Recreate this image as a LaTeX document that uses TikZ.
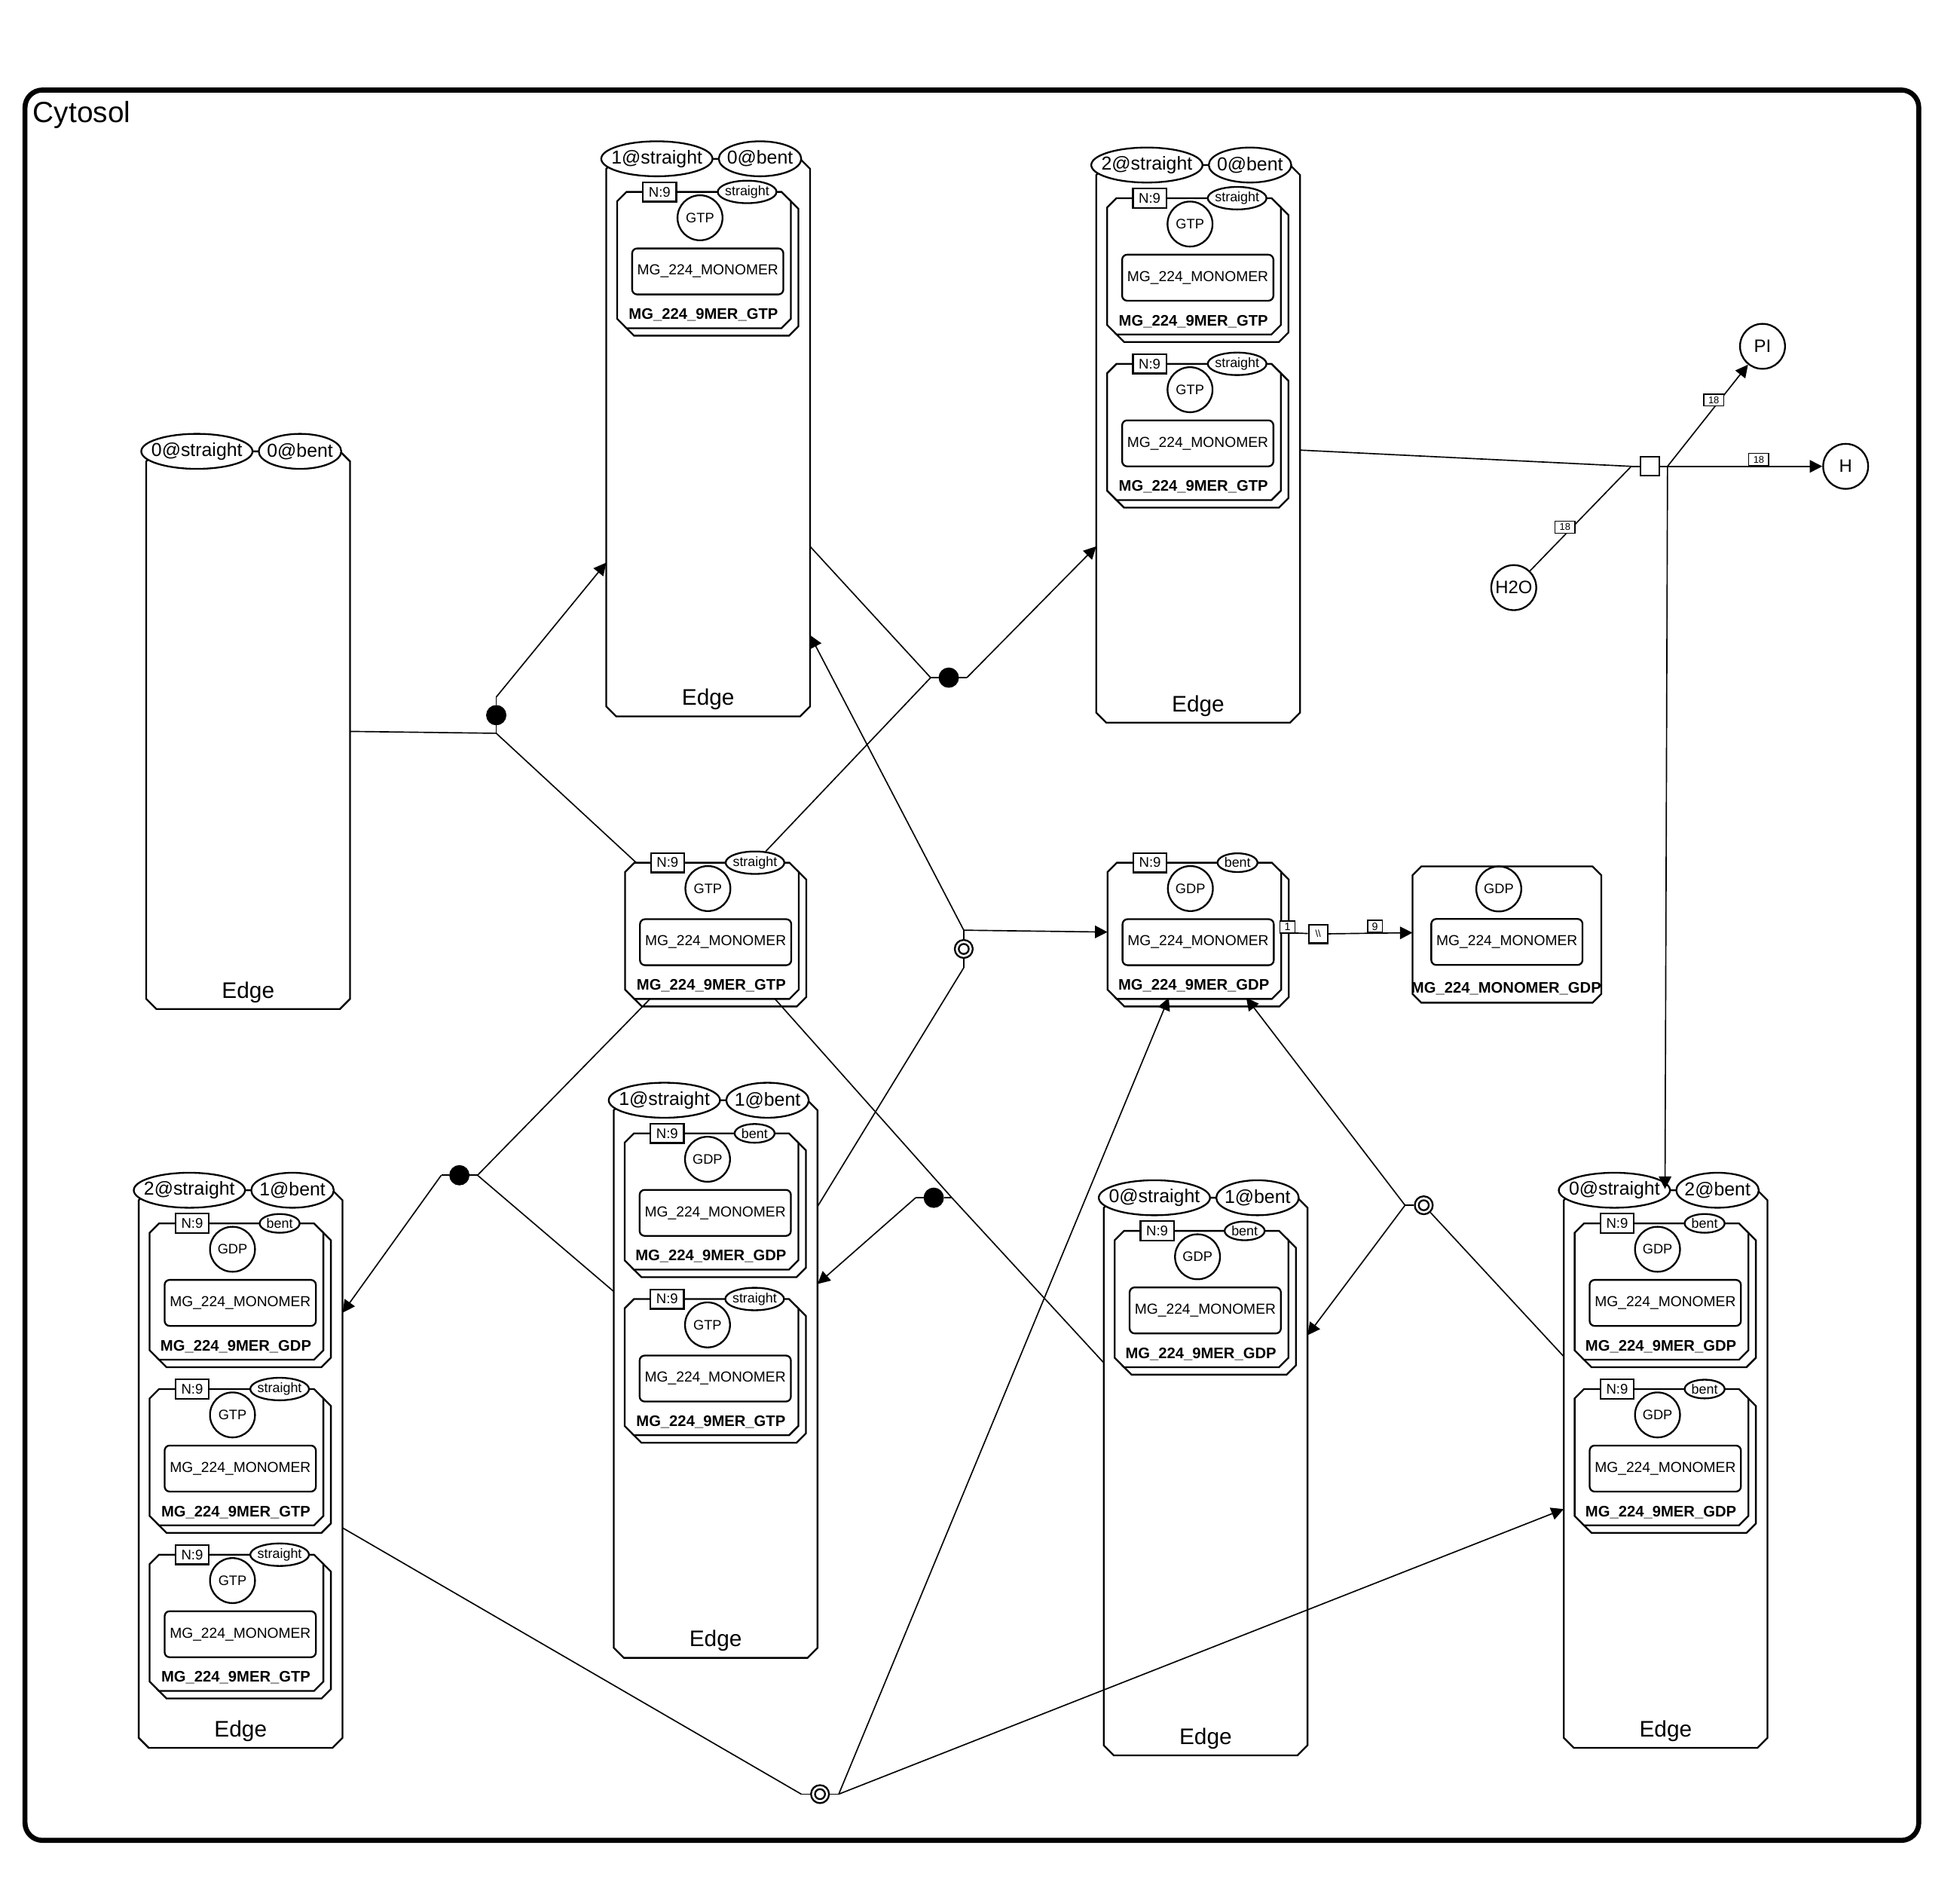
\documentclass[tikz,border=0pt]{standalone}
\usepackage{fontspec}
\setmainfont{Liberation Sans}
\usetikzlibrary{shapes.geometric,arrows.meta}
\newcommand\fs[1]{\fontsize{#1}{#1}\selectfont}
\newcommand\us{\char95 }
\newcommand\chdraw[5]{\draw[bd,fill=white] (#1+#5,#2) -- (#3-#5,#2) -- (#3,#2+#5) -- (#3,#4-#5) -- (#3-#5,#4) -- (#1+#5,#4) -- (#1,#4-#5) -- (#1,#2+#5) -- cycle;}
\tikzset{
 bd/.style={line width=0.7pt},
 cn/.style={line width=0.5pt},
 ar/.style={cn,-{Triangle[length=5pt,width=5pt]}},
 sv/.style={ellipse,draw,bd,fill=white,inner xsep=-4pt,inner ysep=-2pt,minimum height=14pt,font=\fs{7.5}},
 svs/.style={sv,minimum width=44.5pt},
 svb/.style={sv,minimum width=33pt},
 msstraight/.style={ellipse,draw,bd,fill=white,inner xsep=-4pt,inner ysep=-2pt,minimum width=23.5pt,minimum height=9pt,font=\fs{5.4}},
 msbent/.style={ellipse,draw,bd,fill=white,inner xsep=-4pt,inner ysep=-2pt,minimum width=16pt,minimum height=7.5pt,font=\fs{5.4}},
 nbox/.style={rectangle,draw,bd,fill=white,inner sep=0pt,minimum width=13.35pt,minimum height=7.75pt,font=\fs{5.6}},
 lig/.style={circle,draw,bd,fill=white,inner sep=-3pt,minimum size=18pt,font=\fs{5.5}},
 mono/.style={rectangle,rounded corners=2pt,draw,bd,fill=white,inner sep=0pt,minimum width=60.5pt,minimum height=18.4pt,font=\fs{5.8}},
 mlab/.style={inner sep=0pt,font=\fs{6.1}\bfseries},
 elab/.style={inner sep=0pt,font=\fs{9}},
 spec/.style={circle,draw,bd,fill=white,inner sep=-3pt,minimum size=18pt,font=\fs{7.2}},
 aproc/.style={circle,fill=black,draw,line width=0.3pt,inner sep=0pt,minimum size=7.8pt},
 dproc/.style={circle,draw,bd,fill=white,inner sep=0pt,minimum size=7.2pt,path picture={\draw[bd] (path picture bounding box.center) circle[radius=2pt];}},
 sproc/.style={rectangle,draw,bd,fill=white,inner sep=0pt,minimum size=7.5pt,font=\fs{4}},
 stoi/.style={rectangle,draw,line width=0.45pt,fill=white,inner sep=0pt,minimum width=8pt,minimum height=4.75pt,font=\fs{3.9}},
 stoj/.style={stoi,minimum width=6pt,minimum height=4.8pt,font=\fs{4.3}},
}
\newcommand\edgebox[5]{%
 \chdraw{#2}{#3}{#2+163}{#3+446}{8}
 \node[svs] (#1s) at (#2+40.5,#3) {#4};
 \node[svb] (#1b) at (#2+123,#3) {#5};
 \node[elab] (#1t) at (#2+81.5,#3+432.5) {Edge};
}
\newcommand\mmer[5]{%
 \chdraw{#2+6}{#3+6}{#2+145}{#3+115}{7.5}
 \chdraw{#2}{#3}{#2+139}{#3+109}{7.5}
 \node[nbox] (#1n) at (#2+34,#3) {N:9};
 \node[ms#4] (#1s) at (#2+104,#3) {#4};
 \node[lig] (#1l) at (#2+66.3,#3+20.7) {#5};
 \node[mono] (#1m) at (#2+72.5,#3+63.6) {MG\us224\us MONOMER};
 \node[mlab] (#1t) at (#2+69,#3+98.5) {MG\us224\us9MER\us#5};
}
\begin{document}
\begin{tikzpicture}[x=0.5pt,y=-0.5pt]
\useasboundingbox (0,0) rectangle (1568,1505);
% compartment
\draw[line width=2pt,rounded corners=7pt] (20,72) rectangle (1535,1472);
\node[anchor=west,inner sep=0pt,font=\fs{11.7}] (cyt) at (26,92) {Cytosol};
% Edge containers
\edgebox{ea}{117}{361}{0@straight}{0@bent}
\edgebox{eb}{485}{127}{1@straight}{0@bent}
\edgebox{ec}{877}{132}{2@straight}{0@bent}
\edgebox{ed}{111}{952}{2@straight}{1@bent}
\edgebox{ee}{491}{880}{1@straight}{1@bent}
\edgebox{ef}{883}{958}{0@straight}{1@bent}
\edgebox{eg}{1251}{952}{0@straight}{2@bent}
% multimers inside containers
\mmer{mb1}{493.7}{153.5}{straight}{GTP}
\mmer{mc1}{885.7}{158.5}{straight}{GTP}
\mmer{mc2}{885.7}{291}{straight}{GTP}
\mmer{md1}{119.7}{978.5}{bent}{GDP}
\mmer{md2}{119.7}{1111}{straight}{GTP}
\mmer{md3}{119.7}{1243.5}{straight}{GTP}
\mmer{me1}{499.7}{906.5}{bent}{GDP}
\mmer{me2}{499.7}{1039}{straight}{GTP}
\mmer{mf1}{891.7}{984.5}{bent}{GDP}
\mmer{mg1}{1259.7}{978.5}{bent}{GDP}
\mmer{mg2}{1259.7}{1111}{bent}{GDP}
% free multimers
\mmer{mgtp}{500}{690}{straight}{GTP}
\mmer{mgdp}{886}{690}{bent}{GDP}
% monomer complex
\chdraw{1130}{693}{1281}{802}{7}
\node[lig] (cgdp) at (1199,711) {GDP};
\node[mono] (cmono) at (1205.5,753.4) {MG\us224\us MONOMER};
\node[mlab] (clab) at (1205,791) {MG\us224\us MONOMER\us GDP};
% simple species
\node[spec] (pi) at (1410,277) {PI};
\node[spec] (hh) at (1476.5,373) {H};
\node[spec] (h2o) at (1211,470) {H2O};
% process nodes
\node[aproc] (A1) at (397,572) {};
\node[aproc] (A2) at (759,542) {};
\node[aproc] (A3) at (367.5,940) {};
\node[aproc] (A4) at (747,958) {};
\node[dproc] (D1) at (771,759) {};
\node[dproc] (D2) at (1139,964) {};
\node[dproc] (D3) at (656,1435) {};
\node[sproc] (P) at (1320,373) {};
\node[sproc] (O) at (1054.5,747) {\textbackslash\textbackslash};
% ports
\coordinate (A1t) at (397,557.5); \coordinate (A1b) at (397,586.5);
\coordinate (A2l) at (744.5,542); \coordinate (A2r) at (773.5,542);
\coordinate (A3l) at (353,940); \coordinate (A3r) at (382,940);
\coordinate (A4l) at (732.5,958); \coordinate (A4r) at (761.5,958);
\coordinate (D1t) at (771,744); \coordinate (D1b) at (771,774);
\coordinate (D2l) at (1124,964);
\coordinate (D3l) at (641,1435); \coordinate (D3r) at (671,1435);
\coordinate (Pl) at (1305,373); \coordinate (Pr) at (1334,373);
% attachment points on containers
\coordinate (ear) at (280,585);
\coordinate (mgtpTL) at (509,690);
\coordinate (ebl) at (485,450);
\coordinate (ebr1) at (648,437);
\coordinate (ebr2) at (648,508);
\coordinate (ecl) at (877,437);
\coordinate (ecr) at (1040,360);
\coordinate (egt) at (1332,951);
\coordinate (mgdpL) at (886,745.5);
\coordinate (eer1) at (654,965);
\coordinate (eer2) at (654,1027);
\coordinate (mgtpBL) at (520,799);
\coordinate (mgtpBR) at (620,799);
\coordinate (eel) at (491,1033);
\coordinate (edr1) at (274,1050);
\coordinate (edr2) at (274,1222);
\coordinate (efl) at (883,1090);
\coordinate (efr) at (1046,1068);
\coordinate (egl1) at (1251,1085);
\coordinate (egl2) at (1251,1207);
\coordinate (mgdpB1) at (997,798);
\coordinate (mgdpB2) at (935,798);
\coordinate (mgdpR) at (1030,746);
\coordinate (cplxL) at (1130,746);
% stubs
\draw[cn] (A1.north) -- (A1t); \draw[cn] (A1.south) -- (A1b);
\draw[cn] (A2.west) -- (A2l); \draw[cn] (A2.east) -- (A2r);
\draw[cn] (A3.west) -- (A3l); \draw[cn] (A3.east) -- (A3r);
\draw[cn] (A4.west) -- (A4l); \draw[cn] (A4.east) -- (A4r);
\draw[cn] (D1.north) -- (D1t); \draw[cn] (D1.south) -- (D1b);
\draw[cn] (D2.west) -- (D2l);
\draw[cn] (D3.west) -- (D3l); \draw[cn] (D3.east) -- (D3r);
\draw[cn] (P.west) -- (Pl); \draw[cn] (P.east) -- (Pr);
% connectors
\draw[cn] (ear) -- (A1b);
\draw[cn] (mgtpTL) -- (A1b);
\draw[ar] (A1t) -- (ebl);
\draw[cn] (ebr1) -- (A2l);
\draw[cn] (mgtps) -- (A2l);
\draw[ar] (A2r) -- (ecl);
\draw[cn] (ecr) -- (Pl);
\draw[cn] (h2o) -- (Pl);
\draw[ar] (Pr) -- (pi);
\draw[ar] (Pr) -- (hh);
\draw[ar] (Pr) -- (egt);
\draw[ar] (D1t) -- (ebr2);
\draw[ar] (D1t) -- (mgdpL);
\draw[cn] (eer1) -- (D1b);
\draw[cn] (mgtpBL) -- (A3r);
\draw[cn] (eel) -- (A3r);
\draw[ar] (A3l) -- (edr1);
\draw[cn] (mgtpBR) -- (A4r);
\draw[cn] (efl) -- (A4r);
\draw[ar] (A4l) -- (eer2);
\draw[cn] (egl1) -- (D2);
\draw[ar] (D2l) -- (mgdpB1);
\draw[ar] (D2l) -- (efr);
\draw[cn] (edr2) -- (D3l);
\draw[ar] (D3r) -- (mgdpB2);
\draw[ar] (D3r) -- (egl2);
\draw[cn] (mgdpR) -- (O);
\draw[ar] (O) -- (cplxL);
% stoichiometry labels
\node[stoi] (s1) at (1371,320) {18};
\node[stoi] (s2) at (1407,367.5) {18};
\node[stoi] (s3) at (1252,421.7) {18};
\node[stoj] (s4) at (1030,741.5) {1};
\node[stoj] (s5) at (1100,741) {9};
\end{tikzpicture}
\end{document}
